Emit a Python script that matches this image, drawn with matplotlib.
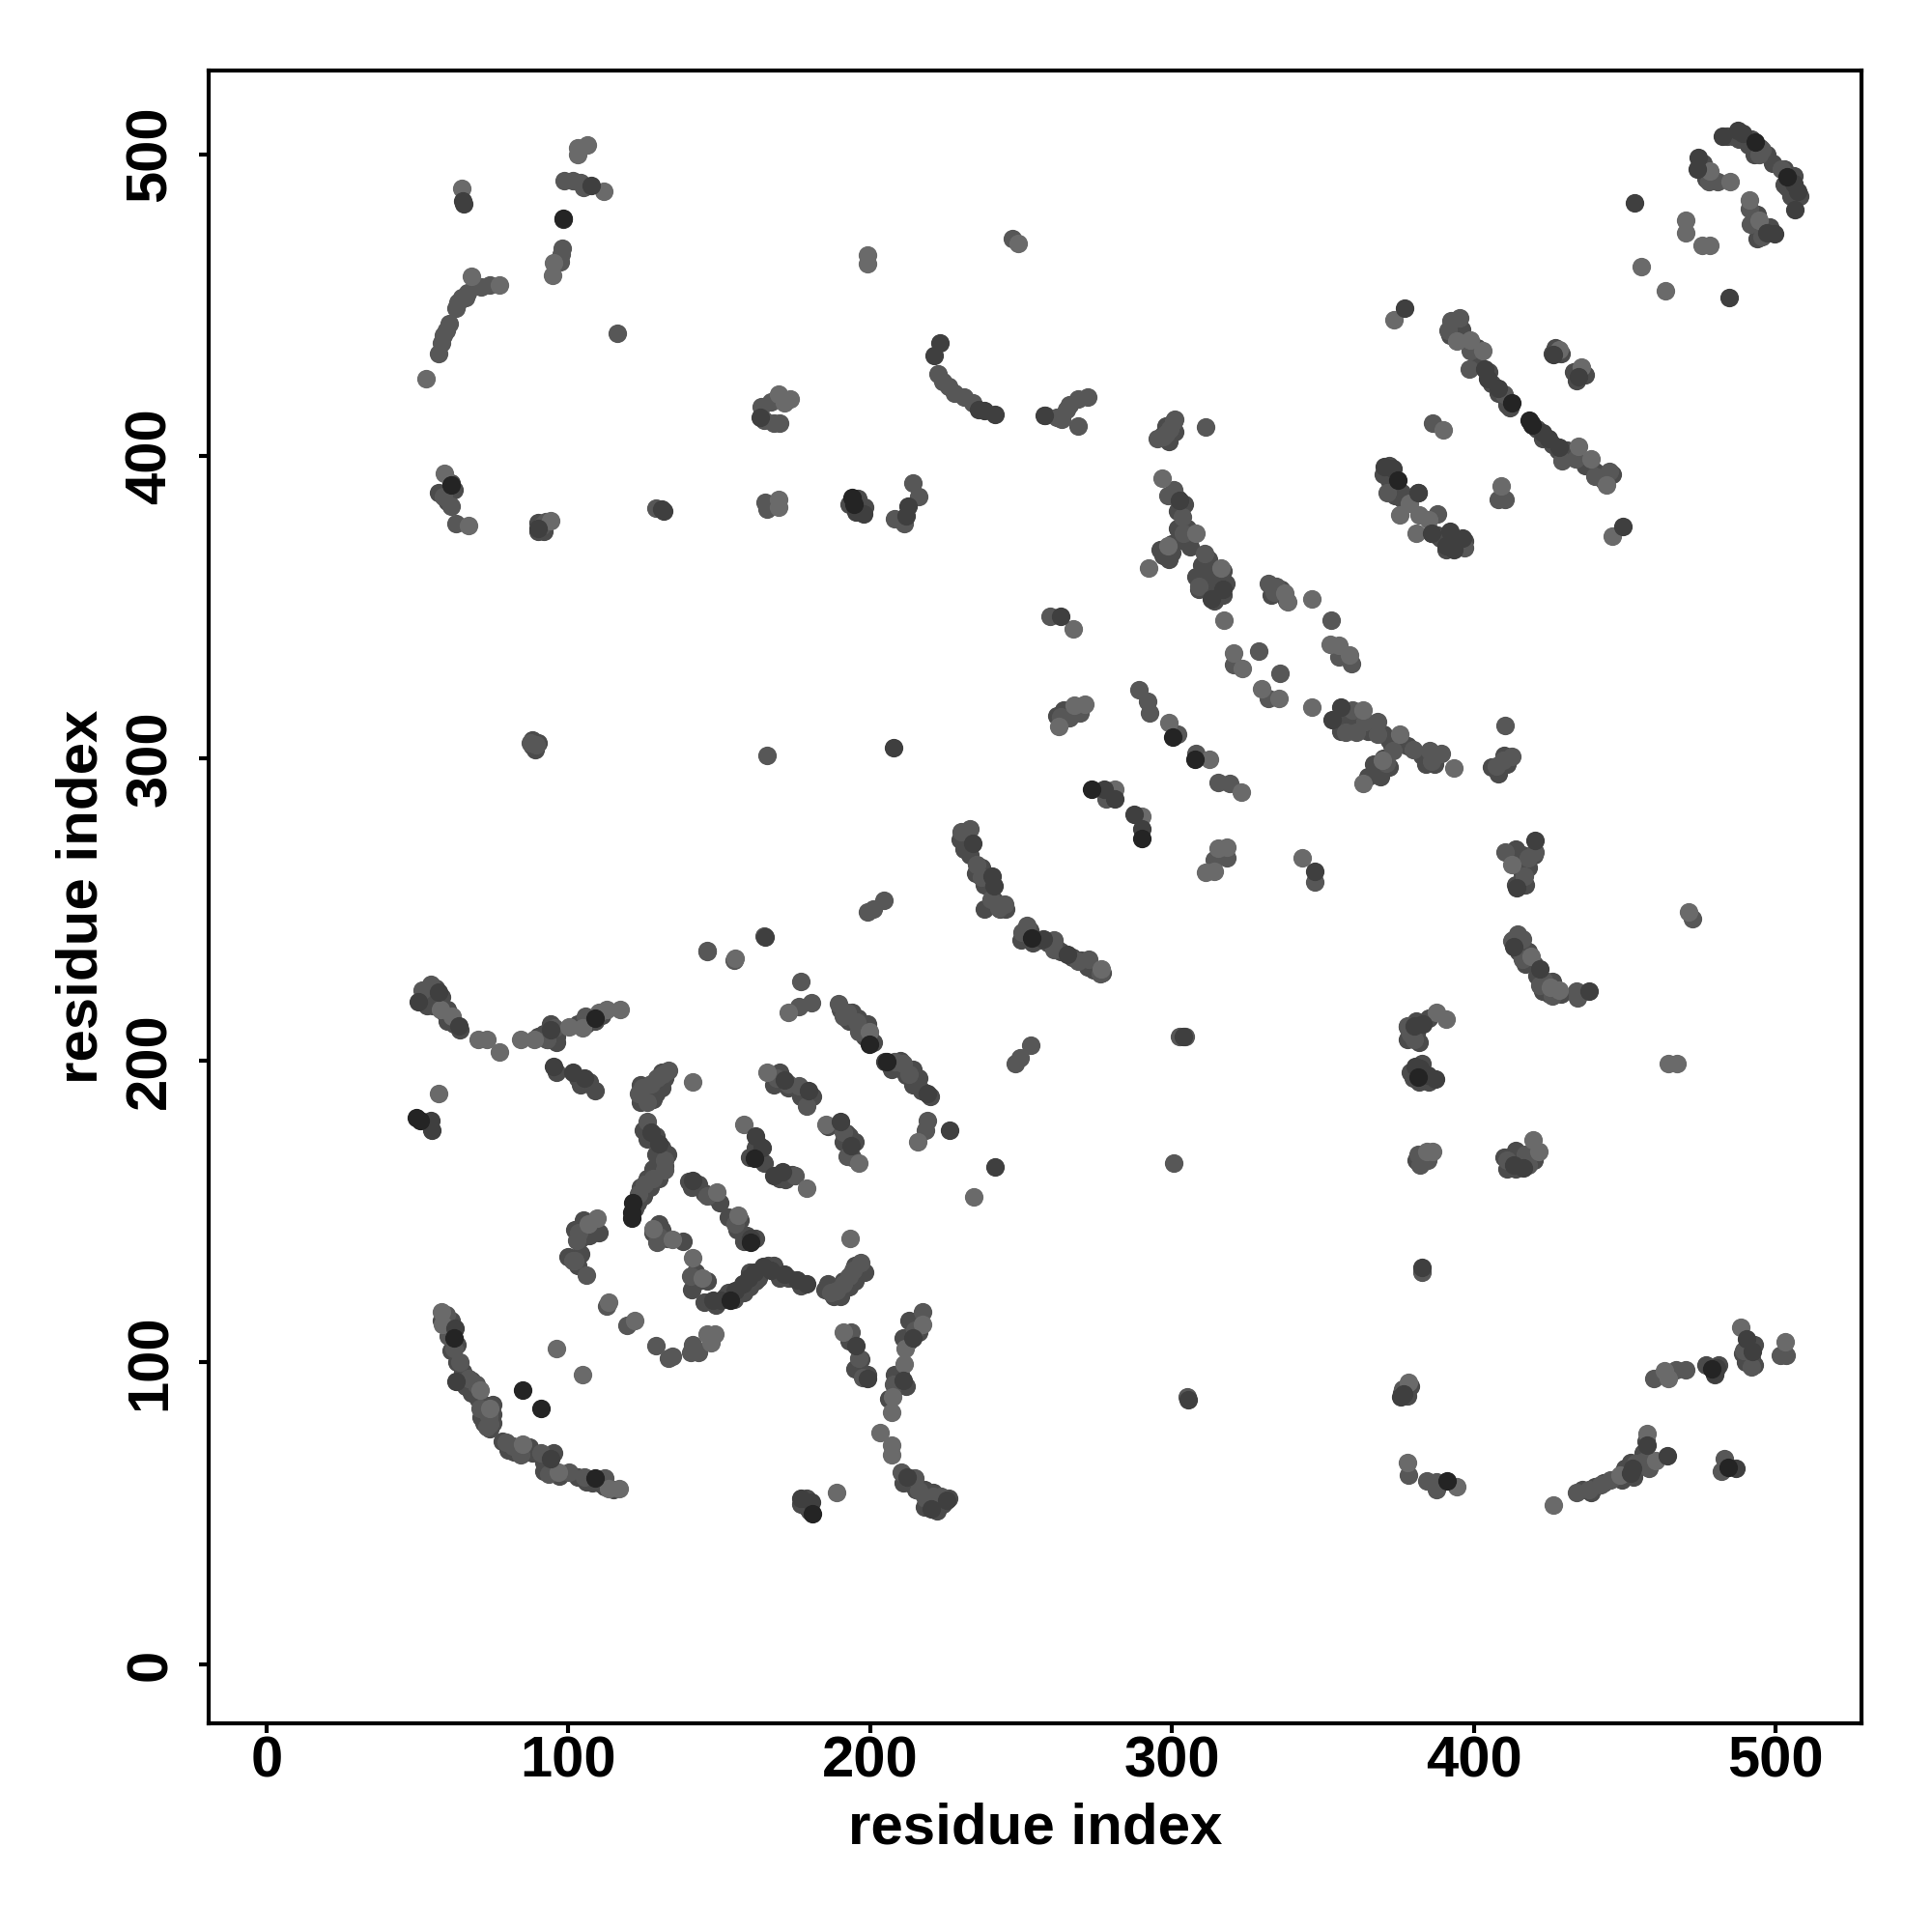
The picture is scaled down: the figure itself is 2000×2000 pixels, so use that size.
import matplotlib
matplotlib.use("Agg")
import matplotlib.pyplot as plt

plt.rcParams["font.family"] = ["Liberation Sans", "DejaVu Sans"]

light_x = [52.8, 68, 77, 64.7, 103, 106.3, 103, 111.6, 94.9, 95.2, 199, 199, 249, 169.6, 173.6, 171.5,
           478.3, 485, 491.4, 494.6, 470.2, 470.2, 475.7, 478.2, 455.4, 463.5, 373.6, 394.3, 398.8, 403,
           428.3, 435.7, 434.7, 439, 444, 445.9, 409, 389.8, 382, 375.5, 378.7, 385.2, 381,
           296.8, 308, 316.3, 298.8, 292.4, 337.4, 338.2, 346.4, 317.3, 352.4, 355.4, 359, 320.4, 323.2,
           329.6, 335.4, 346.4, 363.2, 375.4, 393.3, 369.7, 363.3, 267.2, 271, 267.5, 262.5,
           299, 312.3, 323, 281, 290, 318.2, 315.3, 311, 314, 343.2, 412.5, 276.5, 419, 425.4, 428.2,
           387.5, 391, 471.2, 464.4, 467.5, 384.3, 386.5, 419.6, 421.7, 378.5, 377.9, 394.4, 426.5,
           448.4, 457.5, 460.4, 463.2, 464.4, 488.4, 503.2, 155.1, 172.8, 199.6, 215.9, 234.4, 165.8,
           158.2, 196.3, 179, 141.2, 149.2, 156.2, 109.4, 106.7, 128, 134.6, 141.2, 144.5, 193.2,
           217.3, 211.5, 211.3, 207.3, 207.2, 203.2, 207.2, 207.2, 191, 189, 57.6, 61.6, 70, 73.1, 77.1,
           84.2, 88.8, 100.1, 104.7, 112.7, 117.3, 110, 57, 57.9, 58.3, 70.9, 73.9, 96.1, 104.7, 84.8,
           96.8, 113.3, 116.7, 113.3, 122, 145.9, 148.5, 147.2, 58.9, 66.9, 94.2, 169.6, 169.6, 185.3]
light_y = [425.8, 459.6, 456.8, 488.6, 502, 503, 500, 487.8, 460, 464, 466.5, 463.8, 470.5, 420.5, 419, 417.6,
           494.5, 490.8, 484.8, 478, 478, 474, 469.8, 469.8, 462.8, 454.8, 445.3, 438, 438.6, 434.8,
           435.3, 429.5, 403.3, 399, 390.6, 373.5, 390.2, 408.6, 380.5, 380.5, 384.5, 379, 374.6,
           392.7, 374.6, 363, 370.3, 363, 354.8, 351.7, 352.7, 345.8, 337.8, 337.3, 334.2, 335, 329.8,
           322.9, 319.9, 317, 316, 308, 296.8, 299.4, 291.7, 342.8, 318, 317.6, 310.6,
           311.8, 299.6, 288.8, 289.8, 280.8, 270.7, 270.2, 262.2, 262.7, 267, 264.8, 230.2, 234.4, 224.3, 223.3,
           215.9, 213.8, 249, 198.9, 198.9, 169.8, 169.8, 173.7, 169.8, 93.4, 66.8, 58.8, 52.8,
           62.6, 76.4, 67.5, 97.2, 94.8, 111.6, 106.8, 233.9, 215.8, 209.4, 173, 154.8, 196.1,
           178.9, 165.9, 157.7, 192.8, 156.4, 148.8, 147.7, 145.8, 144.4, 140.7, 134.8, 127.9, 140.9,
           112.6, 104.7, 99.6, 88.7, 83.4, 76.8, 72.6, 69.5, 110, 57, 216.7, 214.7, 207, 207, 202.8,
           206.9, 207, 211, 210.7, 216.7, 217, 216, 188.9, 116.6, 112.6, 90.7, 84.8, 104.7, 95.8, 72.8,
           63.6, 58.2, 58.2, 119.9, 113.9, 109.3, 109.3, 106.6, 394.3, 377.2, 378.8, 385.8, 383.1, 178.9]

mid_x = [57, 58.5, 60.6, 62.6, 66, 71, 74, 58, 59.5, 63.5, 64.7, 66.7, 98.5, 101.5, 104, 105, 98, 97.6, 97.3,
         116.1, 222.6, 224, 226, 228, 231, 234, 163.8, 165, 168, 170, 167, 258, 261.7, 263.3, 265, 266, 269, 272,
         269, 295, 297, 298, 299.3, 300.5, 301, 311, 247, 495.5, 494.6, 502, 478, 480.8, 491.8, 491.4, 495.4,
         392.5, 395.4, 391.5, 398.8, 398.5, 410, 429.2, 433.9, 440.3, 445, 410.4, 408, 386.4, 371.4, 381.6, 388,
         386, 397, 300.6, 298.8, 303.5, 303.8, 310.8, 309, 331.8, 334.6, 334, 352.7, 355.4, 359.4, 320.4, 328.6,
         335.8, 331.8, 359.7, 361, 364, 368.2, 357.5, 368, 373.3, 380, 385.4, 386, 389.4, 371, 410.4, 412.5,
         409.7, 407.5, 259.6, 269.6, 266, 263.2, 289.2, 291.8, 292.5, 301.8, 308, 315.3, 319, 278.2,
         314, 318.2, 347.2, 410.4, 420.3, 418.2, 416.8, 230.3, 232.9, 235.3, 236.8, 240, 244.6, 242.5, 251.8,
         250.3, 253.2, 261, 261, 268.9, 272.5, 276.2, 414.7, 412.5, 416.1, 416, 423.3, 426, 421.8, 434, 434.4,
         378.2, 379, 380.4, 302.5, 304.5, 253.2, 249.6, 248, 472.5, 381.7, 382.2, 384.8, 411, 417, 418, 383,
         378.5, 376.3, 384.3, 387.5, 387.5, 434.2, 438.2, 442, 445.2, 453.7, 456, 459.7, 467, 470.4, 489.4,
         492, 501.7, 503.6, 146.1, 176.4, 180.4, 177, 189.4, 192.3, 191, 195.6, 196.3, 208.2, 210.9, 212.9,
         218.8, 218.2, 169.1, 172.8, 176.4, 179, 192.3, 191, 175, 133.3, 131.3, 129.3, 127.3, 124.6, 123.3, 126,
         126, 131.9, 131.9, 127.9, 125.3, 123.3, 145.9, 155.1, 103.4, 102.7, 102, 101.4, 106, 129.9, 129.3,
         140.6, 217.5, 214.9, 207.6, 193.6, 196.3, 197.6, 210.2, 214.9, 216.2, 218.2, 220.8, 223.5, 54.3, 51.6,
         92.8, 95.4, 105.7, 59.6, 60.3, 62, 64, 66.9, 69.6, 70.9, 73.5, 73.9, 72.9, 79.5, 81.5, 84.2,
         90.8, 93.4, 100.1, 105.4, 112, 112.7, 119.3, 129, 134.6, 133.3, 140.6, 143.2, 141.2, 58.7, 61.1, 62.7,
         91.2, 92.4, 129.1, 165.9, 165.3, 214.3, 216.1, 208.1, 211.2, 87.3, 89.3, 165.8, 199, 201, 204.6,
         300.5, 305, 458, 482, 483, 146, 155, 165, 187, 189, 191, 193, 194.3, 197]
mid_y = [434, 440, 444, 449, 452.7, 456, 456.8, 437.6, 441.7, 451, 452.7, 454, 491.4, 491.4, 490.6, 489, 469, 467, 464.5,
         440.7, 427.4, 424.6, 423, 421, 419.6, 417.6, 416.4, 412, 411, 411, 418, 413.5, 413, 412.3, 415.6, 417, 419, 419.6,
         410, 406, 406.5, 407.5, 409, 411.5, 412.4, 409.8, 472, 501.4, 499.8, 495, 490.8, 490.8, 476.9, 482, 472.6,
         445, 445.8, 441.8, 434.8, 429, 420.5, 398.6, 399, 393.3, 395, 385.8, 385.8, 410.9, 388, 388, 381,
         374.6, 369.8, 389, 387, 380, 374.6, 367.7, 357, 358, 357, 355, 345.8, 333.5, 331.4, 331, 335.4,
         328.2, 319.8, 316, 308.6, 312, 312, 308.6, 308, 302.6, 302.8, 302.6, 299, 301.6, 298.4, 310.8, 300.7,
         299.4, 297.3, 347, 315, 313.3, 313.8, 322.7, 318.8, 315, 308, 301.6, 292, 291.7, 286.6,
         266.4, 267, 259, 269, 269, 267, 261, 275.7, 276.6, 264.8, 260.6, 253.3, 251.6, 250.4, 244.6,
         242.4, 240.8, 239.8, 236.6, 232.8, 233.4, 228.7, 241.9, 239.5, 240.3, 233.4, 226.4, 221.3, 224.8, 222.8, 220.6,
         211.5, 208.8, 207, 208, 208, 205, 200.8, 199, 247, 169, 165.2, 166.8, 166.8, 169, 165.2, 130,
         62.6, 91, 60.8, 60.4, 58, 56.9, 58, 59.5, 61, 66.5, 67.3, 94.8, 97.5, 97.6, 104,
         98.6, 102.3, 102.3, 236.3, 217.8, 219, 226, 218.7, 216, 214.7, 212.7, 209.4, 199.5, 198.8, 195.5,
         180.2, 177, 194.2, 192.2, 191.5, 184.9, 168.3, 176.3, 161.7, 196.8, 195.5, 194.2, 192.2, 190.8, 188.9, 186.2,
         179.6, 167, 163.7, 161, 159, 155.7, 155, 145.8, 143.1, 140.5, 133.8, 133.8, 128.8, 141.8, 139.8,
         128.5, 116.9, 110.6, 92.7, 110, 101.3, 95, 63.6, 61.6, 57.6, 55, 55.6, 55.6, 225.3, 223.3,
         206.8, 210.7, 214.7, 115.9, 108.6, 104.7, 100, 94.7, 92.7, 84.8, 82.1, 79.5, 78.8, 73.5, 72.2, 69.5,
         70.2, 62.9, 63.6, 62, 61.6, 118.6, 112.2, 105.7, 102, 101.3, 103.3, 103.3, 106, 386.8, 383.6, 377.8,
         377.2, 378.3, 382.8, 382.5, 384.7, 391, 386.8, 379.4, 377.8, 305.1, 304.6, 301, 249, 250, 252.9,
         166, 88.5, 65, 64, 68, 236, 233, 241, 123.2, 123.9, 125.9, 128.5, 130.5, 133.2]

dark_x = [65, 65.4, 107.6, 98.3, 223, 221.3, 236, 238, 241.3, 163.5, 257.7, 482.4, 487.5, 489, 474.4, 474, 506, 507.4,
          506.4, 497.2, 499.7, 453.3, 484.7, 377, 403.6, 404.5, 408, 426.5, 434.7, 422.9, 424.8, 428.4, 449.3,
          370.5, 373.2, 381.6, 386, 392, 393.5, 396.2, 390.7, 302.5, 313.2, 316.8, 356, 353, 263.2, 277.5, 281,
          287.4, 290, 347.2, 420.3, 414.2, 233.9, 241, 240.3, 257.5, 265.4, 413.3, 421.8, 438.2, 383.2, 380.4,
          303.8, 380.6, 382.2, 384.8, 387.4, 413.2, 416.4, 382.7, 376.8, 375.8, 452.6, 452, 457.5, 486.8, 479.8,
          480.4, 490.5, 492.4, 165.1, 171.7, 179.7, 162, 164.2, 190, 193.6, 168.2, 171.1, 127.3, 129.9, 141.2,
          160.5, 147.8, 150.5, 155.1, 157.8, 159.8, 161.8, 164.4, 167, 171.7, 175.7, 179, 226.4, 241.4, 218.8,
          214.2, 210.9, 195.2, 199, 212.2, 220.2, 225.5, 177, 180.4, 57, 50.3, 63.6, 94.1, 95.2, 101.4, 105.4,
          54.7, 54.3, 62.3, 62.9, 94.1, 89.9, 131, 131.6, 197.7, 195.3, 212.4, 211.8, 207.9, 305.5, 464, 205]
dark_y = [484.5, 483.7, 489.8, 478.3, 437.6, 433.5, 415.6, 415, 414, 413, 413.5, 505.8, 507.8, 506.8, 498.8, 495, 490.2, 487.7,
          481.7, 474, 473.7, 483.8, 452.6, 449, 429, 425.8, 422.5, 433.8, 426.3, 407.7, 406, 403, 376.7,
          396.5, 395.9, 388, 374.6, 375, 369.2, 373, 370.3, 385.3, 352.7, 356, 317, 312.7, 347, 289.8, 286.6,
          281.3, 276.6, 262.7, 272.8, 257, 271.8, 257.9, 261, 240.3, 235, 237.6, 230.2, 222.9, 212, 211.5,
          207.8, 198, 197.3, 195, 193.8, 165.2, 164.4, 131.5, 89.4, 88.6, 64.9, 63.4, 72.6, 65, 96.3,
          98.2, 107.7, 103.6, 240.8, 193.5, 189.9, 174.9, 171, 179.6, 171.6, 161.7, 163, 176.3, 172.3, 160.3,
          141.1, 120.6, 120.6, 123.9, 125.9, 127.9, 129.8, 131.8, 130.5, 129.2, 127.2, 125.9, 177, 164.7, 188.9,
          108, 94, 105.6, 94.7, 62.2, 51.6, 54.3, 55, 53.6, 222.7, 219.4, 211.4, 210, 197.9, 196.1, 194.2,
          176.9, 180.2, 111.3, 93.6, 68.2, 376, 382.5, 382, 381, 381.5, 383.6, 380.4, 303.4, 87.5, 69, 199.7]

black_x = [98.2, 493.3, 503.7, 412.6, 418.3, 419.2, 375, 273.4, 300.4, 307.5, 290, 253.5, 381.6, 478.8, 391.2, 484.4,
           205.6, 199.6, 153.8, 160.5, 121.3, 120.9, 120.9, 181, 161.8, 108.7, 49.7, 51, 62, 61.1, 84.8, 90.8,
           108.7, 194, 194.7]
black_y = [478.8, 504, 492.4, 417.8, 411.9, 410.3, 392, 289.8, 307, 299.6, 273.4, 240.5, 194.4, 97.9, 60.8, 65.2,
           199.7, 205.4, 120.6, 139.8, 153, 149.7, 147.7, 50, 167.6, 214, 180.9, 180.2, 108, 390.5, 90.7, 84.8,
           61.6, 386.3, 384.2]

# points mostly hidden inside the dense streaks
under_x = [58, 60, 61, 61, 63, 61, 63, 65, 64, 66, 68, 68, 70, 72, 71, 72, 75, 75, 75, 74,
           78, 80, 82, 85, 87, 88, 92, 92, 94, 95, 93, 97, 103, 106, 108, 110, 112, 115,
           53, 53, 55, 55, 57, 56, 59, 60, 62, 64, 52, 58, 60,
           90, 92, 93, 96, 96, 94, 103, 106, 107, 109, 111, 96, 103, 104, 107, 109,
           124, 125, 126, 127, 128, 129, 130, 131, 132, 128, 124, 131,
           125, 126, 129, 130, 131, 129, 132, 130, 127, 128, 125, 123, 126, 122, 124, 133,
           140, 143, 141, 145, 148, 150, 153, 157, 156, 158, 162, 159,
           100, 103, 104, 105, 108, 104, 107, 102, 110, 128, 130, 133, 138, 131, 142, 143, 146, 141,
           145, 149, 152, 155, 153, 158, 160, 162, 163, 166, 168, 170, 173, 177, 160,
           185, 186, 188, 190, 191, 193, 195, 195, 198, 190,
           190, 192, 193, 194, 196, 197, 198, 201, 199, 200,
           207, 210, 212, 214, 216, 217, 220, 214, 209, 168, 170, 173, 177, 179, 181,
           191, 193, 195, 194, 190, 192, 186, 162, 163, 160, 165, 170, 172, 174,
           213, 216, 213, 211, 216, 210, 212, 209, 208, 206, 197, 193, 195, 199,
           211, 213, 215, 218, 219, 222, 218, 221, 224, 226, 222, 177, 179, 179, 180,
           230, 232, 231, 233, 235, 237, 238, 240, 241, 243, 238, 245,
           250, 253, 254, 256, 259, 262, 263, 267, 270, 272, 274, 277,
           296, 297, 300, 300, 299, 302, 304, 302, 305, 302, 304, 306, 310, 312, 312, 313, 311, 312,
           315, 315, 317, 317, 318, 308, 309, 314, 333, 336, 338,
           392, 394, 396, 399, 401, 401, 405, 406, 408, 411, 411, 412,
           419, 421, 423, 426, 428, 431, 433, 437, 440, 443, 446,
           426, 429, 427, 434, 435, 437, 433, 370, 372, 372, 373, 374, 376, 373, 376,
           388, 389, 392, 395, 394, 391, 397, 391,
           484, 486, 488, 491, 492, 495, 493, 497, 499, 503, 504, 506, 503, 505, 508, 476, 477, 476,
           494, 496, 498, 494, 356, 358, 360, 356, 361, 365, 366, 370, 372, 373, 378, 383, 384, 387,
           365, 367, 369, 370, 372, 406, 408, 409, 410, 411,
           413, 414, 415, 416, 417, 420, 421, 424, 423, 426, 429, 425, 418,
           378, 381, 383, 385, 378, 382, 381, 379, 382, 383, 380, 385,
           411, 410, 412, 414, 415, 414, 420, 382, 384, 381, 376, 378, 379,
           449, 451, 450, 453, 454, 455, 456, 457, 452, 436, 440, 443, 439,
           480, 481, 477, 490, 492, 493, 489, 491, 493, 503, 297, 299, 301, 298,
           414, 416, 418, 420, 416, 414, 417, 262, 264, 268, 88, 88, 90, 89,
           196, 193, 196, 198, 90, 90, 92, 57, 61, 62, 60]
under_y = [114, 112, 114, 110, 106, 104, 100, 97, 94, 92, 90, 94, 88, 86, 82, 80, 80, 86, 83, 78,
           74, 71, 70.5, 70, 72, 70, 67, 64, 65, 70, 66, 62.5, 62, 60.5, 60, 60, 59, 58,
           222, 218, 218, 222, 219, 224, 216, 213, 212, 210, 221, 221, 217,
           208, 209, 207, 208, 206, 212, 212, 212, 213, 213, 215, 196, 194, 192, 193, 190,
           186, 189, 191, 188, 192, 189, 193, 191, 194, 187, 192, 196,
           177, 174, 175, 169, 171, 169, 165, 161, 158, 164, 155, 153, 161, 151, 158, 169,
           160, 159, 158, 156, 155, 153, 148, 147, 144, 140, 141, 142,
           135, 132, 136, 147, 146, 141, 142, 144, 143, 143, 146, 141, 140, 144, 130, 127, 127, 124,
           120, 119, 122, 121, 123, 123, 125, 127, 128, 132, 132, 128, 128, 125.5, 130,
           124, 126, 122, 122, 127, 125, 127, 132, 130, 125,
           217, 214, 213, 216, 214, 211, 208, 206, 212, 207,
           197, 200, 195, 192, 194, 190, 188, 197, 199, 192, 196, 191, 188, 188, 188,
           173, 175, 173, 168, 178, 176, 178, 171, 172, 168, 166, 161, 160.5, 162,
           114, 114, 107, 108, 110, 96, 92, 92, 96, 88, 101, 107, 98, 96,
           60, 60, 58, 58, 53, 53, 52, 57, 53, 55, 51, 53, 52, 55, 51,
           273, 274, 270, 268, 262, 264, 258, 257, 253, 250, 250, 250,
           240, 243, 239, 240, 239, 237, 236, 234, 233, 231, 230, 229,
           369, 367, 368, 371, 366, 386, 384, 382, 376, 376, 372, 370, 364, 363, 366, 358, 357, 361,
           360, 355, 354, 362, 358, 360, 356, 352, 354, 356, 352,
           440, 443, 442, 437, 431, 436, 428, 424, 421, 418, 417, 416,
           411, 409, 406, 404, 402, 402, 400, 397, 395, 392, 394,
           434, 434, 436, 425, 427, 427, 428, 394, 392, 397, 390, 387, 388, 393, 386,
           374, 373, 371, 370, 372, 369, 372, 374,
           506, 506, 505, 503, 505, 502, 500, 500, 497, 495, 489, 493, 490, 486, 486, 497, 492, 495,
           480, 476, 476, 472, 311, 312, 310, 309, 313, 309, 311, 308, 306, 304, 304, 301, 298, 298,
           294, 298, 294, 300, 297, 297, 295, 298, 301, 298,
           240, 238, 236, 238, 232, 232, 228, 226, 223, 226, 222, 222, 236,
           207, 209, 212, 214, 211, 206, 213, 196, 193, 199, 194, 193,
           164, 168, 168, 164, 167, 170, 167, 166, 168, 167, 90, 89, 92,
           61, 63, 65, 62, 65, 67, 70, 74, 67, 58, 59, 60, 57,
           96, 99, 99, 100, 101, 99, 103, 105, 106, 103, 407, 405, 408, 410,
           270, 262, 264, 268, 268, 258, 258, 314, 316, 315, 306, 304, 305, 303,
           382, 384, 386, 383, 375, 378, 375, 388, 391, 389, 385]

ticks = [0, 100, 200, 300, 400, 500]

fig = plt.figure(figsize=(10, 10), dpi=200)
ax = fig.add_axes([216 / 2000, 1 - 1784 / 2000, (1927 - 216) / 2000, (1784 - 73) / 2000])

ax.scatter(under_x, under_y, s=48, c="#4b4b4b", linewidths=0, zorder=1)
ax.scatter(mid_x, mid_y, s=48, c="#575757", linewidths=0, zorder=2)
ax.scatter(light_x, light_y, s=48, c="#6a6a6a", linewidths=0, zorder=3)
ax.scatter(dark_x, dark_y, s=48, c="#3f3f3f", linewidths=0, zorder=4)
ax.scatter(black_x, black_y, s=48, c="#242424", linewidths=0, zorder=5)

ax.set_xlim(-19.2, 528.5)
ax.set_ylim(-19.5, 527.7)
ax.set_xticks(ticks)
ax.set_yticks(ticks)
ax.tick_params(length=3.6, width=1.5, labelsize=21.5)
ax.tick_params(axis="x", pad=1)
ax.tick_params(axis="y", pad=8)
for label in ax.get_xticklabels():
    label.set_fontweight("bold")
for label in ax.get_yticklabels():
    label.set_fontweight("bold")
    label.set_rotation(90)
    label.set_va("center")
for side in ax.spines.values():
    side.set_linewidth(1.5)

ax.set_xlabel("residue index", fontsize=21.6, fontweight="bold", labelpad=5)
ax.set_ylabel("residue index", fontsize=21.6, fontweight="bold", labelpad=6)

fig.savefig("out.png", dpi=200)
plt.close(fig)
